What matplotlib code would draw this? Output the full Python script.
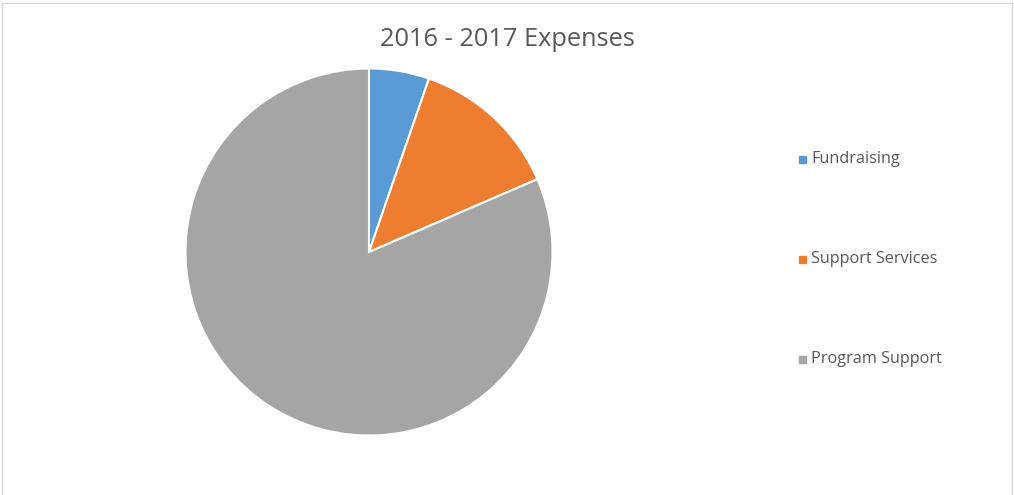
import matplotlib
matplotlib.use('Agg')
from matplotlib import pyplot as plt
from matplotlib.patches import Rectangle
from matplotlib.lines import Line2D

title = '2016 - 2017 Expenses'
labels = ['Fundraising', 'Support Services', 'Program Support']
values = [5.3, 13.2, 81.5]
colors = ['#5B9BD5', '#ED7D31', '#A5A5A5']

W, H = 1014, 495
fig = plt.figure(figsize=(W / 100, H / 100), dpi=100)
plt.rcParams['font.family'] = ['Open Sans', 'DejaVu Sans']

# pie axes placed by pixel box: centre (369, 252), radius 183
cx, cy, r = 369, 252, 183.5
ax = fig.add_axes([(cx - r) / W, (H - cy - r) / H, 2 * r / W, 2 * r / H])
ax.pie(values, colors=colors, startangle=90, counterclock=False,
       wedgeprops={'edgecolor': 'white', 'linewidth': 1.5})
ax.set_xlim(-1, 1)
ax.set_ylim(-1, 1)
ax.set_aspect('equal')
ax.axis('off')

fig.text(507 / W, 1 - 40 / H, title, ha='center', va='center',
         fontsize=18.3, color='#595959')

# legend drawn by hand, one entry per row
for i, (lab, col) in enumerate(zip(labels, colors)):
    y = 1 - (159 + 100 * i) / H
    fig.patches.append(Rectangle((799 / W, y - 3.5 / H), 7 / W, 7 / H,
                                 transform=fig.transFigure, color=col))
    fig.text(811 / W, y, lab, ha='left', va='center', fontsize=11.7,
             color='#595959')

# light frame on left, top, right
bc = '#D9D9D9'
fig.lines.append(Line2D([1.5 / W, 1.5 / W], [0, 1 - 3 / H], transform=fig.transFigure, color=bc, lw=1))
fig.lines.append(Line2D([1.5 / W, 1011.5 / W], [1 - 3 / H, 1 - 3 / H], transform=fig.transFigure, color=bc, lw=1))
fig.lines.append(Line2D([1011.5 / W, 1011.5 / W], [0, 1 - 3 / H], transform=fig.transFigure, color=bc, lw=1))

fig.savefig('out.png', dpi=100)
